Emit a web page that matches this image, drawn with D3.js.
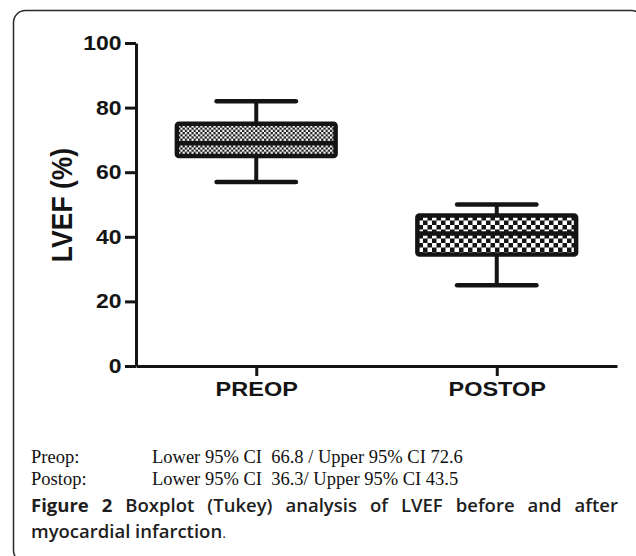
<!DOCTYPE html>
<html>
<head>
<meta charset="utf-8">
<script src="https://cdn.jsdelivr.net/npm/d3@7"></script>
<style>
  body { margin: 0; background: #fff; }
  svg { display: block; }
</style>
</head>
<body>
<svg id="chart_svg" width="636" height="556"></svg>
<script>
var groups = ["PREOP", "POSTOP"];
var whisker_low = [57, 25];
var q1 = [65, 34.5];
var medians = [69, 41];
var q3 = [75, 46.6];
var whisker_high = [82, 50];
var y_ticks = [0, 20, 40, 60, 80, 100];
var ci_labels = ["Preop:", "Postop:"];
var ci_texts = ["Lower 95% CI  66.8 / Upper 95% CI 72.6", "Lower 95% CI  36.3/ Upper 95% CI 43.5"];
var caption_bold = "Figure 2";
var caption_line1 = "Boxplot (Tukey) analysis of LVEF before and after";
var caption_line2 = "myocardial infarction";

make_boxplot = function () {

    var svg = d3.select("#chart_svg");
    var ink = "#141414";
    var stretch = 1.12; // figure is a bit wider than tall in the scan

    // rounded frame, running off the right/bottom edge
    svg.append("rect")
        .attr("x", 13.5).attr("y", 10.5)
        .attr("width", 630).attr("height", 552)
        .attr("rx", 12)
        .attr("fill", "none")
        .attr("stroke", "#2a2a2a")
        .attr("stroke-width", 1.5);

    var defs = svg.append("defs");
    var make_checker = function (id, cell) {
        var p = defs.append("pattern")
            .attr("id", id)
            .attr("patternUnits", "userSpaceOnUse")
            .attr("width", cell * 2).attr("height", cell * 2);
        p.append("rect").attr("width", cell * 2).attr("height", cell * 2).attr("fill", ink);
        p.append("rect").attr("width", cell).attr("height", cell).attr("fill", "#fff");
        p.append("rect").attr("x", cell).attr("y", cell).attr("width", cell).attr("height", cell).attr("fill", "#fff");
    };
    make_checker("check_fine", 2.2);
    make_checker("check_coarse", 4.5);
    var fills = ["url(#check_fine)", "url(#check_coarse)"];

    var x = d3.scalePoint()
        .domain(groups)
        .range([136, 617])
        .padding(0.5);

    var y = d3.scaleLinear()
        .domain([0, 100])
        .range([366, 43]);

    var boxWidth = x.step() * 0.66;
    var capWidth = x.step() * 0.33;

    var data = groups.map(function (g, i) {
        return { name: g, lo: whisker_low[i], q1: q1[i], med: medians[i], q3: q3[i], hi: whisker_high[i], fill: fills[i] };
    });

    var boxes = svg.append("g")
        .selectAll("g")
        .data(data)
        .join("g");

    // whisker stems
    boxes.append("line")
        .attr("x1", d => x(d.name)).attr("x2", d => x(d.name))
        .attr("y1", d => y(d.hi)).attr("y2", d => y(d.lo))
        .attr("stroke", ink).attr("stroke-width", 4);

    // whisker caps
    boxes.selectAll("line.cap")
        .data(d => [{ c: d.name, v: d.lo }, { c: d.name, v: d.hi }])
        .join("line")
        .attr("class", "cap")
        .attr("x1", d => x(d.c) - capWidth / 2).attr("x2", d => x(d.c) + capWidth / 2)
        .attr("y1", d => y(d.v)).attr("y2", d => y(d.v))
        .attr("stroke", ink).attr("stroke-width", 4.5)
        .attr("stroke-linecap", "round");

    boxes.append("rect")
        .attr("x", d => x(d.name) - boxWidth / 2)
        .attr("y", d => y(d.q3))
        .attr("width", boxWidth)
        .attr("height", d => y(d.q1) - y(d.q3))
        .attr("rx", 2)
        .attr("fill", d => d.fill)
        .attr("stroke", ink)
        .attr("stroke-width", 4.5);

    boxes.append("line")
        .attr("x1", d => x(d.name) - boxWidth / 2).attr("x2", d => x(d.name) + boxWidth / 2)
        .attr("y1", d => y(d.med)).attr("y2", d => y(d.med))
        .attr("stroke", ink).attr("stroke-width", 4.5);

    // axes
    var yAxis = g => g
        .attr("transform", "translate(136,0)")
        .call(d3.axisLeft(y).tickValues(y_ticks).tickSize(11).tickSizeOuter(0).tickPadding(2))
        .call(g => g.selectAll(".domain, .tick line").attr("stroke", ink).attr("stroke-width", 3))
        .call(g => g.selectAll(".tick text")
            .attr("fill", ink)
            .attr("font-family", "'Liberation Sans', Arial, sans-serif")
            .attr("font-weight", "bold")
            .attr("font-size", 20.5)
            .attr("transform", `scale(${stretch},1)`));

    var xAxis = g => g
        .attr("transform", "translate(0,366)")
        .call(d3.axisBottom(x).tickSize(10).tickSizeOuter(0).tickPadding(5))
        .call(g => g.selectAll(".domain, .tick line").attr("stroke", ink).attr("stroke-width", 3))
        .call(g => g.selectAll(".tick text")
            .attr("fill", ink)
            .attr("font-family", "'Liberation Sans', Arial, sans-serif")
            .attr("font-weight", "bold")
            .attr("font-size", 21)
            .attr("transform", `scale(${stretch},1)`));

    svg.append("g").call(yAxis);
    svg.append("g").call(xAxis);

    svg.append("text")
        .attr("transform", `translate(61,205) scale(${stretch},1) rotate(-90)`)
        .attr("text-anchor", "middle")
        .attr("dy", "0.36em")
        .attr("fill", ink)
        .attr("font-family", "'Liberation Sans', Arial, sans-serif")
        .attr("font-weight", "bold")
        .attr("font-size", 26.5)
        .text("LVEF (%)");

    // confidence interval notes
    var notes = svg.append("g")
        .attr("font-family", "'Liberation Serif', 'Times New Roman', serif")
        .attr("font-size", 18.5)
        .attr("fill", "#111");
    ci_labels.forEach(function (lab, i) {
        notes.append("text").attr("x", 31).attr("y", 463 + i * 21.5).text(lab);
        notes.append("text").attr("x", 152).attr("y", 463 + i * 21.5)
            .attr("xml:space", "preserve").style("white-space", "pre")
            .text(ci_texts[i]);
    });

    // caption: first line justified word by word to the frame width
    var cap = svg.append("g")
        .attr("font-family", "'Open Sans', 'Noto Sans', sans-serif")
        .attr("font-size", 18.5)
        .attr("fill", "#1e1e1e");

    var words = caption_bold.split(" ").map(w => ({ w: w, bold: true }))
        .concat(caption_line1.split(" ").map(w => ({ w: w, bold: false })));
    var wordNodes = cap.selectAll("text.w1")
        .data(words)
        .join("text")
        .attr("class", "w1")
        .attr("y", 512)
        .attr("font-weight", d => d.bold ? "bold" : 600)
        .text(d => d.w);
    var widths = [];
    wordNodes.each(function () { widths.push(this.getComputedTextLength()); });
    var gap = (618 - 31 - d3.sum(widths)) / (words.length - 1);
    var pos = 31;
    wordNodes.attr("x", function (d, i) {
        var p = pos;
        pos += widths[i] + gap;
        return p;
    });

    var line2 = cap.append("text").attr("x", 31).attr("y", 538);
    line2.append("tspan").attr("font-weight", 600).text(caption_line2);
    line2.append("tspan")
        .attr("font-family", "'Liberation Serif', serif")
        .attr("font-size", 15)
        .text(".");
};

make_boxplot();
</script>
</body>
</html>
